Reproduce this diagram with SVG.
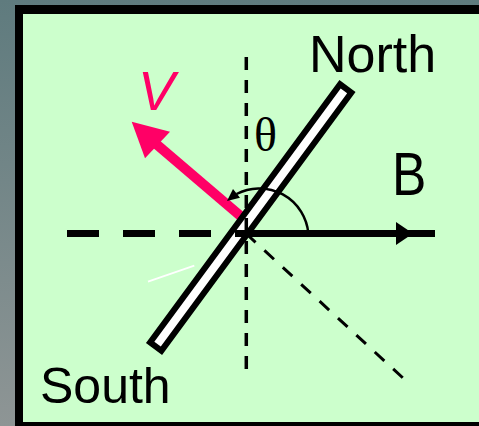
<svg xmlns="http://www.w3.org/2000/svg" width="479" height="426" viewBox="0 0 479 426">
  <defs>
    <linearGradient id="bg" x1="0" y1="0" x2="0" y2="1">
      <stop offset="0" stop-color="#5f7b7e"/>
      <stop offset="1" stop-color="#8e9595"/>
    </linearGradient>
    <style>
      .lbl { font-family: "Liberation Sans", Arial, sans-serif; fill: #000; }
      .dash { stroke: #000; fill: none; }
    </style>
  </defs>
  <rect id="background" x="0" y="0" width="479" height="426" fill="url(#bg)"/>
  <g id="panel">
    <rect x="15" y="5" width="480" height="440" fill="#000"/>
    <rect x="23" y="14" width="470" height="408" fill="#ccffcc"/>
  </g>
  <g id="velocity">
    <line x1="155" y1="143" x2="244" y2="219" stroke="#ff0066" stroke-width="10"/>
    <polygon points="131.7,121.7 145,158.3 170,131.7" fill="#ff0066"/>
  </g>
  <g id="magnet" transform="translate(250.75,217.5) rotate(-53.66)">
    <rect x="-160.25" y="-7" width="320.5" height="14" fill="#fff" stroke="#000" stroke-width="6"/>
  </g>
  <g id="connectors">
    <line class="dash" x1="67" y1="233.5" x2="211" y2="233.5" stroke-width="7" stroke-dasharray="32 24"/>
    <line class="dash" x1="246.3" y1="57" x2="246.3" y2="378" stroke-width="3.5" stroke-dasharray="13 10"/>
    <line class="dash" x1="246" y1="233.5" x2="403" y2="378" stroke-width="3" stroke-dasharray="13 12"/>
    <line x1="235" y1="233.5" x2="435" y2="233.5" stroke="#000" stroke-width="7"/>
    <polygon points="396,222 413,233.5 396,245" fill="#000"/>
    <path d="M308.3,233 A49.2,49.2 0 0 0 236.5,194" fill="none" stroke="#000" stroke-width="2.5"/>
    <polygon points="227,201 240,197.8 233,189" fill="#000"/>
    <line x1="148" y1="281.7" x2="194.3" y2="265.7" stroke="#fff" stroke-width="1.8"/>
  </g>
  <g id="labels">
    <text class="lbl" x="309" y="72" font-size="52">North</text>
    <text class="lbl" x="40" y="403" font-size="50">South</text>
    <text class="lbl" transform="translate(392,195) scale(0.83,1)" font-size="62">B</text>
    <text x="138" y="110" font-size="55" font-style="italic" font-family="'Liberation Sans', Arial, sans-serif" fill="#ff0066">V</text>
    <text x="254" y="151" font-size="48" font-family="'Liberation Serif', 'Times New Roman', serif" fill="#000">θ</text>
  </g>
</svg>
